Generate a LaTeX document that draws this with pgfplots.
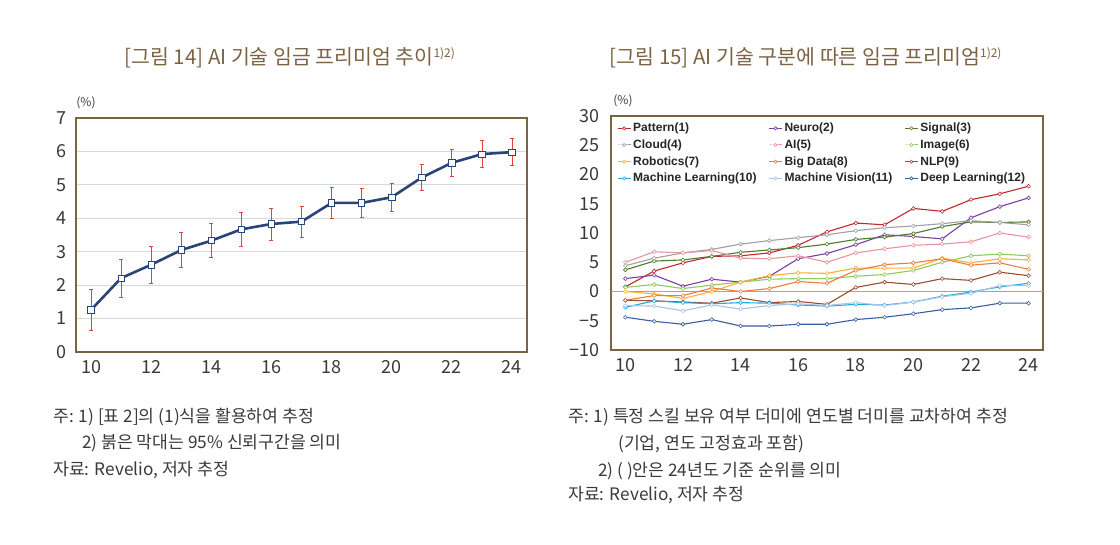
\documentclass[border=0pt]{standalone}
\usepackage{fontspec}
\setmainfont{Noto Sans CJK KR}
\newfontfamily\legfont{Liberation Sans}
\usepackage{pgfplots}
\usepackage{pgfplotstable}
\pgfplotsset{compat=1.18}
\definecolor{frame}{HTML}{7A6442}
\definecolor{titlec}{HTML}{7B6343}
\definecolor{navy}{HTML}{2B4478}
\definecolor{ebar}{HTML}{E8413C}
\definecolor{txt}{HTML}{3A3A3A}
\definecolor{cPat}{HTML}{C0282E}
\definecolor{cNeu}{HTML}{7B3FA0}
\definecolor{cSig}{HTML}{4E7A2E}
\definecolor{cClo}{HTML}{A0A0A0}
\definecolor{cAI}{HTML}{E8949A}
\definecolor{cImg}{HTML}{8CCB5E}
\definecolor{cRob}{HTML}{F9B233}
\definecolor{cBig}{HTML}{EE7D3A}
\definecolor{cNLP}{HTML}{9A4E2E}
\definecolor{cML}{HTML}{1EAAE0}
\definecolor{cMV}{HTML}{A9C4E8}
\definecolor{cDL}{HTML}{3A5FA0}

\pgfplotstableread{
year val err
10 1.26 0.60
11 2.21 0.57
12 2.61 0.55
13 3.05 0.52
14 3.33 0.51
15 3.67 0.50
16 3.83 0.48
17 3.90 0.47
18 4.46 0.45
19 4.46 0.44
20 4.63 0.42
21 5.22 0.40
22 5.66 0.40
23 5.92 0.40
24 5.98 0.41
}\premium

\pgfplotstableread{
year pat neu sig clo ai img rob big nlp ml mv dl
10 0.8 2.2 3.7 4.4 5.0 0.7 0.0 -1.5 -1.5 -2.7 -2.4 -4.4
11 3.5 2.8 5.2 5.7 6.8 1.2 -0.4 -0.7 -1.6 -1.6 -2.5 -5.1
12 4.9 0.9 5.4 6.6 6.6 0.5 -1.2 -0.7 -1.8 -1.9 -3.3 -5.6
13 6.0 2.1 6.0 7.2 7.0 1.1 0.0 0.6 -2.0 -2.1 -2.3 -4.8
14 6.1 1.6 6.7 8.1 5.7 1.6 1.6 0.0 -1.1 -1.9 -3.0 -5.9
15 6.6 2.6 7.1 8.7 5.6 2.1 2.7 0.5 -1.9 -2.0 -2.4 -5.9
16 7.9 5.6 7.5 9.2 6.1 2.2 3.2 1.7 -1.7 -2.3 -2.1 -5.6
17 10.2 6.5 8.1 9.7 5.0 2.2 3.1 1.4 -2.2 -2.5 -2.4 -5.6
18 11.7 8.0 8.9 10.4 6.6 2.6 4.0 3.6 0.7 -2.2 -1.9 -4.8
19 11.4 9.7 9.3 10.9 7.3 2.9 4.0 4.6 1.6 -2.3 -2.4 -4.4
20 14.2 9.4 9.9 11.2 7.9 3.6 4.0 4.9 1.2 -1.8 -1.8 -3.8
21 13.7 9.0 11.1 11.6 8.1 5.0 5.7 5.6 2.2 -0.8 -0.9 -3.1
22 15.7 12.6 11.9 12.1 8.5 6.1 4.9 4.5 1.9 -0.1 -0.3 -2.8
23 16.7 14.5 11.8 11.8 10.0 6.4 5.6 4.9 3.3 0.8 1.0 -2.0
24 18.0 16.0 11.9 11.4 9.3 6.1 5.4 3.8 2.7 1.4 1.0 -2.0
}\skills

\pgfplotsset{
  sk/.style={color=#1, line width=1.1pt, mark=*, mark size=1.9pt,
    mark options={fill=white, draw=#1, solid, line width=0.6pt}},
  base/.style={
    scale only axis,
    axis line style={draw=frame, line width=2pt},
    major tick length=0pt,
    xmin=9.5, xmax=24.5,
    xtick={10,12,...,24},
    tick label style={font=\fontsize{18}{20}\selectfont, text=txt},
    /pgf/number format/assume math mode=true,
    clip=false,
  }
}

\begin{document}
\begin{tikzpicture}[x=1pt,y=1pt]
\path[use as bounding box, fill=white] (0,0) rectangle (1120,544);

% ---- titles
\node[text=titlec, font=\fontsize{20.5}{24}\selectfont] at (290,486)
  {[그림 14] AI 기술 임금 프리미엄 추이\textsuperscript{\fontsize{12}{14}\selectfont 1)2)}};
\node[text=titlec, font=\fontsize{20.5}{24}\selectfont] at (806,486)
  {[그림 15] AI 기술 구분에 따른 임금 프리미엄\textsuperscript{\fontsize{12}{14}\selectfont 1)2)}};

% ---- units
\node[text=txt, font=\fontsize{12}{14}\selectfont] at (86,441) {(\%)};
\node[text=txt, font=\fontsize{12}{14}\selectfont] at (623,443) {(\%)};

% ---- left chart
\begin{axis}[base,
  at={(76pt,192pt)}, anchor=south west,
  width=451pt, height=234pt,
  ymin=0, ymax=7, ytick={0,1,...,7},
  ymajorgrids, major grid style={draw=black!15, line width=0.8pt},
  yticklabel style={xshift=-6pt},
  xticklabel style={yshift=-5pt},
]
\addplot[navy, line width=2.6pt, mark=square*, mark size=3.2pt,
  mark options={fill=white, draw=navy, line width=0.8pt},
  error bars/.cd, y dir=both, y explicit,
  error bar style={ebar, line width=0.8pt},
  error mark options={ebar, rotate=90, mark size=2pt, line width=0.8pt}]
  table[x=year, y=val, y error=err] {\premium};
\end{axis}

% ---- right chart
\begin{axis}[base,
  at={(611pt,194pt)}, anchor=south west,
  width=432pt, height=234pt,
  ymin=-10, ymax=30, ytick={-10,-5,...,30},
  yticklabels={−10,−5,0,5,10,15,20,25,30},
  yticklabel style={xshift=-8pt},
  xticklabel style={yshift=-5pt},
  extra y ticks={0}, extra y tick labels={},
  extra y tick style={grid=major, major grid style={draw=frame!60, line width=0.8pt}},
  legend columns=3,
  legend cell align=left,
  legend style={at={(axis description cs:0,1)}, anchor=north west,
    draw=none, fill=none, inner xsep=6pt, inner ysep=5pt,
    font=\legfont\bfseries\fontsize{12}{13}\selectfont, text=black!85,
    row sep=2.5pt,
    /tikz/every even column/.append style={column sep=10pt}},
  legend image code/.code={\draw[mark repeat=2, mark phase=2, line width=1pt, mark size=1.6pt]
    plot coordinates {(0pt,0pt) (6.5pt,0pt) (13pt,0pt)};},
]
\addplot[sk=cPat] table[x=year, y=pat] {\skills}; \addlegendentry{Pattern(1)}
\addplot[sk=cNeu] table[x=year, y=neu] {\skills}; \addlegendentry{Neuro(2)}
\addplot[sk=cSig] table[x=year, y=sig] {\skills}; \addlegendentry{Signal(3)}
\addplot[sk=cClo] table[x=year, y=clo] {\skills}; \addlegendentry{Cloud(4)}
\addplot[sk=cAI] table[x=year, y=ai] {\skills}; \addlegendentry{AI(5)}
\addplot[sk=cImg] table[x=year, y=img] {\skills}; \addlegendentry{Image(6)}
\addplot[sk=cRob] table[x=year, y=rob] {\skills}; \addlegendentry{Robotics(7)}
\addplot[sk=cBig] table[x=year, y=big] {\skills}; \addlegendentry{Big Data(8)}
\addplot[sk=cNLP] table[x=year, y=nlp] {\skills}; \addlegendentry{NLP(9)}
\addplot[sk=cML] table[x=year, y=ml] {\skills}; \addlegendentry{Machine Learning(10)}
\addplot[sk=cMV] table[x=year, y=mv] {\skills}; \addlegendentry{Machine Vision(11)}
\addplot[sk=cDL] table[x=year, y=dl] {\skills}; \addlegendentry{Deep Learning(12)}
\end{axis}

% ---- notes left
\begin{scope}[every node/.style={anchor=west, text=txt, font=\fontsize{17.2}{19}\selectfont, inner sep=0pt}]
\node at (53,127) {주: 1) [표 2]의 (1)식을 활용하여 추정};
\node at (82,101) {2) 붉은 막대는 95\% 신뢰구간을 의미};
\node at (53,74) {자료: Revelio, 저자 추정};
% ---- notes right
\node at (568,127) {주: 1) 특정 스킬 보유 여부 더미에 연도별 더미를 교차하여 추정};
\node at (618,100) {(기업, 연도 고정효과 포함)};
\node at (598,73) {2) ( )안은 24년도 기준 순위를 의미};
\node at (568,49) {자료: Revelio, 저자 추정};
\end{scope}
\end{tikzpicture}
\end{document}
